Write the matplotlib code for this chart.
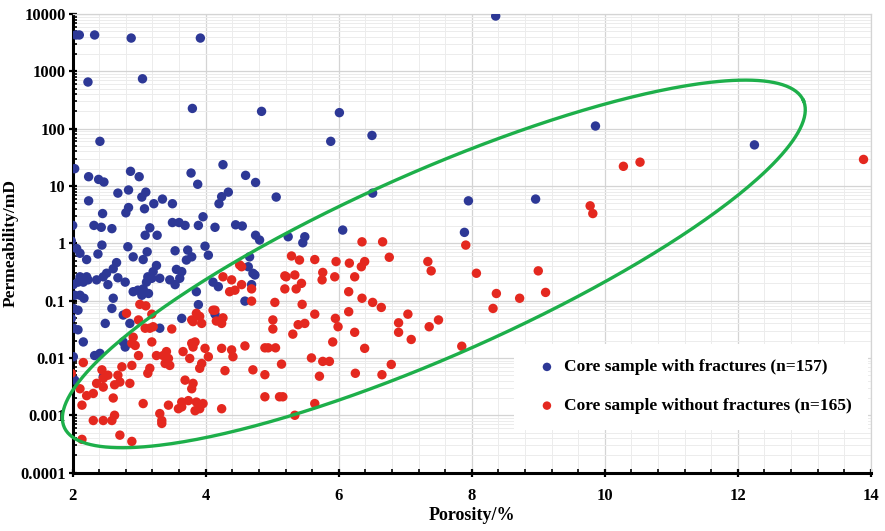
import numpy as np
import matplotlib.pyplot as plt
from matplotlib.ticker import FixedLocator, LogLocator, NullFormatter

# porosity (%) and permeability (mD), core samples with fractures
frac_por = [2.05, 2.10, 2.33, 2.88, 3.92, 2.23, 3.05, 3.80, 4.84, 2.41, 8.36, 6.01, 5.88, 6.50,
            6.51, 7.95, 8.96, 6.06, 7.89, 5.24, 5.49, 9.86, 12.25, 2.03, 2.24, 2.39, 2.47, 2.87,
            3.00, 2.68, 2.84, 3.10, 3.04, 2.24, 3.22, 3.35, 3.50, 2.45, 2.80, 2.84, 3.08, 3.78,
            3.88, 4.26, 4.20, 4.24, 4.34, 4.60, 4.75, 5.06, 3.96, 2.00, 2.32, 2.43, 2.59, 3.09,
            3.16, 3.27, 3.50, 3.60, 3.69, 3.89, 4.14, 4.45, 4.55, 4.75, 4.81, 5.46, 1.98, 2.06,
            2.11, 2.21, 2.44, 2.38, 2.83, 2.91, 3.06, 3.12, 3.26, 3.21, 3.13, 3.54, 3.73, 3.79,
            3.71, 2.66, 2.61, 2.51, 2.46, 2.11, 2.21, 3.56, 3.64, 2.01, 2.08, 2.16, 2.23, 2.36,
            2.53, 2.68, 2.79, 2.03, 2.11, 2.17, 2.01, 2.08, 1.98, 2.01, 2.08, 2.16, 2.01, 2.03,
            2.49, 2.33, 2.41, 2.46, 2.61, 2.59, 2.76, 2.86, 2.76, 2.79, 2.91, 2.98, 3.06, 3.04,
            3.14, 3.19, 3.11, 3.31, 3.31, 3.46, 3.54, 3.61, 3.64, 3.99, 4.04, 4.66, 4.64, 4.71,
            4.11, 3.86, 3.89, 4.19, 4.69, 4.74, 4.59, 4.14]
frac_perm = [4300, 4300, 4300, 3800, 3800, 650, 740, 225, 200, 60, 9200, 190, 60, 76,
             7.5, 5.5, 5.9, 1.7, 1.55, 1.3, 1.3, 111, 52, 20, 14.5, 13, 11.7, 18,
             14.5, 7.5, 8.5, 7.8, 6.4, 5.5, 4.9, 5.9, 4.9, 3.3, 3.4, 4.2, 4.0, 16.8,
             10.7, 23.5, 4.9, 6.5, 7.8, 15.3, 11.5, 6.4, 2.9, 2.05, 2.05, 1.9, 1.8, 1.38,
             1.86, 1.38, 2.3, 2.3, 2.05, 2.05, 1.9, 2.1, 2.0, 1.38, 1.14, 1.02, 1.1, 0.81,
             0.67, 0.52, 0.93, 0.65, 0.87, 0.58, 0.52, 0.71, 0.41, 0.32, 0.26, 0.74, 0.76, 0.58,
             0.51, 0.46, 0.36, 0.30, 0.26, 0.26, 0.26, 0.35, 0.32, 0.19, 0.21, 0.21, 0.23, 0.23,
             0.19, 0.25, 0.21, 0.124, 0.124, 0.11, 0.073, 0.068, 0.049, 0.033, 0.031, 0.019, 0.0105, 0.0041,
             0.040, 0.011, 0.012, 0.0047, 0.11, 0.073, 0.056, 0.040, 0.019, 0.0155, 0.143, 0.152, 0.16, 0.124,
             0.133, 0.245, 0.21, 0.245, 0.033, 0.23, 0.19, 0.245, 0.049, 0.89, 0.62, 0.58, 0.39, 0.30,
             0.21, 0.143, 0.085, 0.175, 0.19, 0.28, 0.098, 0.058]

# core samples without fractures
nofrac_por = [10.28, 10.53, 13.89, 9.78, 9.82, 3.01, 3.10, 2.81, 3.19, 2.99, 3.09, 3.16, 3.21, 3.49,
              2.91, 2.89, 2.94, 3.19, 2.99, 3.26, 3.36, 3.41, 3.44, 3.39, 3.46, 3.66, 3.79, 3.86,
              3.81, 2.16, 1.98, 2.44, 2.53, 2.46, 2.74, 2.68, 2.63, 2.71, 2.86, 2.89, 3.13, 3.16,
              2.36, 2.46, 2.31, 2.21, 2.11, 2.14, 2.61, 3.06, 2.31, 2.46, 2.59, 2.63, 2.71, 2.89,
              2.14, 3.31, 3.34, 3.34, 3.44, 3.64, 3.74, 3.64, 3.59, 3.86, 3.84, 3.81, 3.69, 3.79,
              3.76, 4.26, 4.39, 4.36, 4.44, 4.54, 4.69, 4.69, 4.14, 4.26, 4.24, 3.79, 3.94, 3.84,
              3.81, 3.99, 4.04, 3.94, 3.91, 4.24, 4.39, 4.41, 4.59, 4.29, 3.96, 3.91, 4.24, 4.71,
              4.89, 4.89, 5.11, 5.16, 4.89, 4.94, 5.05, 5.14, 5.01, 5.31, 5.39, 5.49, 5.04, 5.21,
              5.19, 5.36, 5.44, 5.45, 5.34, 5.64, 5.59, 5.71, 5.76, 5.86, 5.91, 5.64, 5.34, 5.75,
              5.94, 5.95, 5.99, 6.35, 6.66, 6.76, 5.96, 6.16, 6.39, 6.34, 6.24, 7.34, 7.39, 7.91,
              8.07, 6.15, 6.35, 6.51, 6.64, 6.15, 6.24, 6.90, 6.90, 7.04, 7.09, 6.39, 6.25, 6.65,
              6.79, 7.36, 7.50, 7.85, 8.37, 8.32, 8.72, 9.00, 9.11, 5.29, 5.41, 5.64, 5.19, 5.76,
              4.54, 4.51, 5.01, 3.91, 4.11, 4.16]
nofrac_perm = [22, 26, 29, 4.5, 3.3, 0.086, 0.081, 0.060, 0.058, 0.046, 0.033, 0.033, 0.035, 0.032,
               0.023, 0.018, 0.0165, 0.019, 0.011, 0.011, 0.011, 0.0129, 0.0098, 0.0080, 0.0074, 0.0129, 0.018, 0.060,
               0.043, 0.0083, 0.0054, 0.0062, 0.0050, 0.0044, 0.0070, 0.0050, 0.0034, 0.0038, 0.0036, 0.0074, 0.0054, 0.0066,
               0.0036, 0.0031, 0.0024, 0.0022, 0.0029, 0.0015, 0.0020, 0.0016, 0.00081, 0.00081, 0.00081, 0.0010, 0.00045, 0.00035,
               0.00038, 0.00107, 0.00081, 0.00072, 0.0015, 0.0017, 0.0018, 0.0014, 0.0013, 0.0017, 0.0012, 0.0036, 0.0041, 0.0029,
               0.0098, 0.26, 0.23, 0.143, 0.152, 0.19, 0.16, 0.098, 0.068, 0.050, 0.040, 0.046, 0.040, 0.019,
               0.0155, 0.0147, 0.0105, 0.0080, 0.0066, 0.0147, 0.0138, 0.0105, 0.0162, 0.006, 0.0016, 0.0013, 0.0013, 0.0062,
               0.0051, 0.0021, 0.0021, 0.0021, 0.015, 0.015, 0.015, 0.0078, 0.032, 0.026, 0.038, 0.040, 0.093, 0.26,
               0.16, 0.16, 0.20, 0.086, 0.28, 0.058, 0.010, 0.0048, 0.0087, 0.0087, 0.019, 0.0016, 0.0010, 0.23,
               0.26, 0.049, 0.035, 1.06, 1.06, 0.57, 0.48, 0.45, 0.48, 0.39, 0.26, 0.48, 0.33, 0.93,
               0.30, 0.143, 0.11, 0.093, 0.076, 0.064, 0.028, 0.041, 0.028, 0.058, 0.021, 0.0147, 0.0054, 0.0051,
               0.0077, 0.035, 0.046, 0.016, 0.133, 0.073, 0.11, 0.33, 0.139, 0.60, 0.51, 0.52, 0.27, 0.31,
               0.39, 0.42, 0.046, 0.053, 0.068, 0.044]

y_ticks = [0.0001, 0.001, 0.01, 0.1, 1, 10, 100, 1000, 10000]
y_labels = ['0.0001', '0.001', '0.01', '0.1', '1', '10', '100', '1000', '10000']
x_ticks = [2, 4, 6, 8, 10, 12, 14]

# outline ellipse: centre (porosity, log10 perm), semi-axes in pixels, tilt
ell_cx, ell_cy = 7.43, -0.36
ell_a, ell_b, ell_ang = 404, 92, 23.85

plt.rcParams['font.family'] = ['Liberation Serif', 'DejaVu Serif']
plt.rcParams['font.weight'] = 'bold'

fig = plt.figure(figsize=(8.85, 5.31), dpi=100)
ax = fig.add_axes([0.0821, 0.110, 0.9019, 0.8637])

ax.set_yscale('log')
ax.set_xlim(2, 14)
ax.set_ylim(0.0001, 10000)

ax.scatter(frac_por, frac_perm, s=46, color='#2d3896', edgecolors='none', zorder=3,
           label='Core sample with fractures (n=157)')
ax.scatter(nofrac_por, nofrac_perm, s=46, color='#e4281f', edgecolors='none', zorder=3,
           label='Core sample without fractures (n=165)')

# ellipse drawn in pixel-scaled space and mapped back to data units
px_x = 798 / 12.0
px_dec = 458.5 / 8.0
t = np.linspace(0, 2 * np.pi, 400)
th = np.deg2rad(ell_ang)
dx = ell_a * np.cos(t) * np.cos(th) - ell_b * np.sin(t) * np.sin(th)
dy = ell_a * np.cos(t) * np.sin(th) + ell_b * np.sin(t) * np.cos(th)
ax.plot(ell_cx + dx / px_x, 10 ** (ell_cy + dy / px_dec), color='#1daf4a', lw=2.4,
        clip_on=False, zorder=4)

ax.xaxis.set_major_locator(FixedLocator(x_ticks))
ax.xaxis.set_minor_locator(FixedLocator(np.arange(2, 14.01, 0.4)))
ax.yaxis.set_major_locator(FixedLocator(y_ticks))
ax.set_yticklabels(y_labels)
ax.yaxis.set_minor_locator(LogLocator(base=10, subs=np.arange(2, 10), numticks=20))
ax.yaxis.set_minor_formatter(NullFormatter())

ax.grid(which='major', color='#d4d4d4', lw=0.9, zorder=0)
ax.grid(which='minor', color='#ececec', lw=0.7, zorder=0)
ax.set_axisbelow(True)

for side in ['top', 'right']:
    ax.spines[side].set_color('#d4d4d4')
    ax.spines[side].set_linewidth(0.9)
for side in ['left', 'bottom']:
    ax.spines[side].set_color('black')
    ax.spines[side].set_linewidth(2.2)

ax.tick_params(axis='both', which='major', direction='inout', length=6, width=1.6,
               labelsize=12, colors='black')
ax.tick_params(axis='y', which='major', pad=2)
ax.tick_params(axis='both', which='minor', direction='in', length=3, width=1.2)
ax.tick_params(axis='x', pad=8)

ax.set_xlabel('Porosity/%', fontsize=13, fontweight='bold', labelpad=2)
ax.set_ylabel('Permeability/mD', fontsize=12.5, fontweight='bold', labelpad=1)

leg = ax.legend(loc='upper left', bbox_to_anchor=(0.542, 0.30), frameon=True,
                fancybox=False, edgecolor='none', facecolor='white', framealpha=1,
                prop={'size': 12.5, 'weight': 'bold'}, handletextpad=0.0,
                labelspacing=1.3, borderpad=0.9, markerscale=0.9)
leg.set_zorder(5)

fig.savefig('out.png', dpi=100)
